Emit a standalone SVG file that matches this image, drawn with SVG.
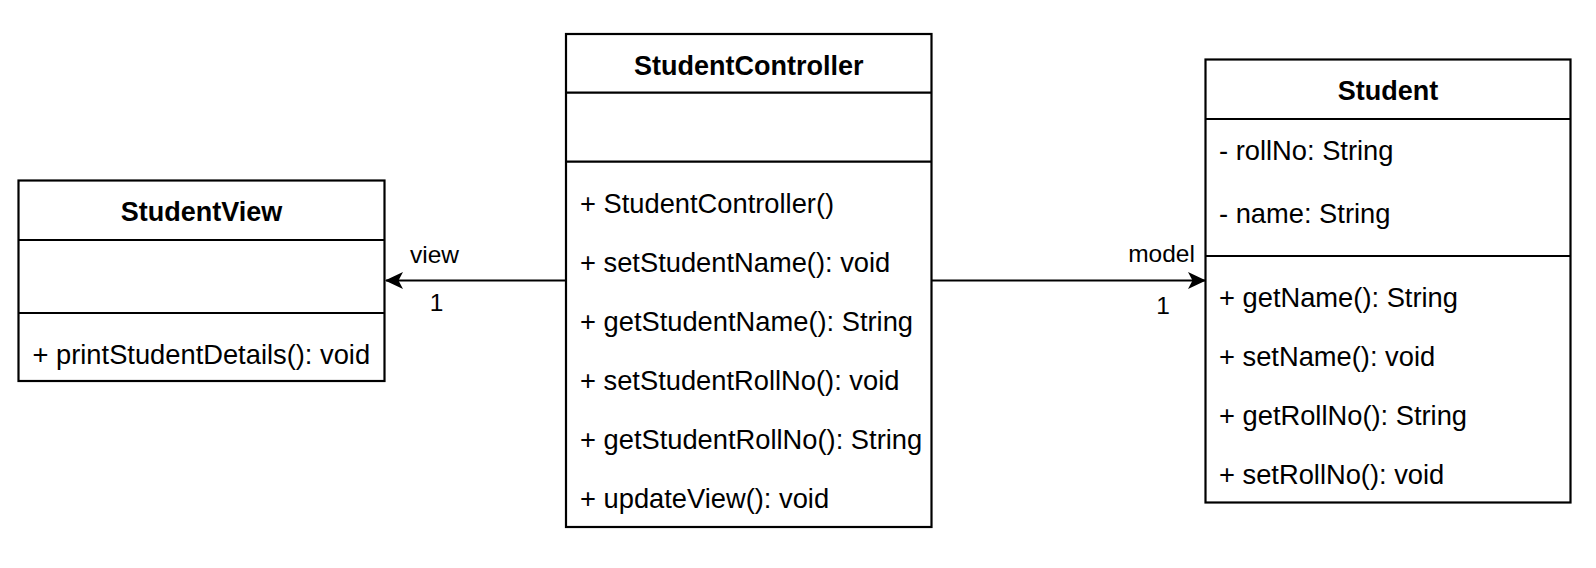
<svg xmlns="http://www.w3.org/2000/svg" width="1596" height="568" viewBox="0 0 1596 568">
  <style>
    .box { fill: #ffffff; stroke: #000000; stroke-width: 2.2; }
    .sep { stroke: #000000; stroke-width: 2.2; fill: none; }
    .title { font-family: "Liberation Sans", Arial, Helvetica, sans-serif; font-size: 27px; font-weight: bold; fill: #000000; text-anchor: middle; }
    .member { font-family: "Liberation Sans", Arial, Helvetica, sans-serif; font-size: 27.3px; fill: #000000; }
    .label { font-family: "Liberation Sans", Arial, Helvetica, sans-serif; font-size: 24.5px; fill: #000000; text-anchor: middle; }
    .edge { stroke: #000000; stroke-width: 2.2; fill: none; }
  </style>
  <defs>
    <marker id="arrow" markerUnits="userSpaceOnUse" markerWidth="18" markerHeight="17" viewBox="0 0 18 17" refX="17" refY="8.5" orient="auto">
      <path d="M0,0 L18,8.5 L0,17 L4.5,8.5 Z" fill="#000000"/>
    </marker>
  </defs>
  <rect width="1596" height="568" fill="#ffffff"/>

  <g id="StudentView">
    <rect class="box" x="18.5" y="180.5" width="366" height="200.5"/>
    <line class="sep" x1="18.5" y1="240" x2="384.5" y2="240"/>
    <line class="sep" x1="18.5" y1="313" x2="384.5" y2="313"/>
    <text class="title" x="201.5" y="221">StudentView</text>
    <text class="member" x="32.5" y="363.5">+ printStudentDetails(): void</text>
  </g>

  <g id="StudentController">
    <rect class="box" x="566" y="34" width="365.5" height="493"/>
    <line class="sep" x1="566" y1="92.7" x2="931.5" y2="92.7"/>
    <line class="sep" x1="566" y1="161.7" x2="931.5" y2="161.7"/>
    <text class="title" x="748.75" y="75">StudentController</text>
    <text class="member" x="580" y="212.5">+ StudentController()</text>
    <text class="member" x="580" y="271.5">+ setStudentName(): void</text>
    <text class="member" x="580" y="330.5">+ getStudentName(): String</text>
    <text class="member" x="580" y="389.5">+ setStudentRollNo(): void</text>
    <text class="member" x="580" y="448.5">+ getStudentRollNo(): String</text>
    <text class="member" x="580" y="507.5">+ updateView(): void</text>
  </g>

  <g id="Student">
    <rect class="box" x="1205.5" y="59.5" width="365" height="443"/>
    <line class="sep" x1="1205.5" y1="119" x2="1570.5" y2="119"/>
    <line class="sep" x1="1205.5" y1="256" x2="1570.5" y2="256"/>
    <text class="title" x="1388" y="100">Student</text>
    <text class="member" x="1219" y="160">- rollNo: String</text>
    <text class="member" x="1219" y="223">- name: String</text>
    <text class="member" x="1219" y="306.5">+ getName(): String</text>
    <text class="member" x="1219" y="365.5">+ setName(): void</text>
    <text class="member" x="1219" y="424.5">+ getRollNo(): String</text>
    <text class="member" x="1219" y="483.5">+ setRollNo(): void</text>
  </g>

  <g id="connectors">
    <line class="edge" x1="566" y1="280.5" x2="386" y2="280.5" marker-end="url(#arrow)"/>
    <text class="label" x="434.5" y="263">view</text>
    <text class="label" x="436.5" y="310.5">1</text>
    <line class="edge" x1="931.5" y1="280.5" x2="1205" y2="280.5" marker-end="url(#arrow)"/>
    <text class="label" x="1161.5" y="262">model</text>
    <text class="label" x="1163" y="313.5">1</text>
  </g>
</svg>
